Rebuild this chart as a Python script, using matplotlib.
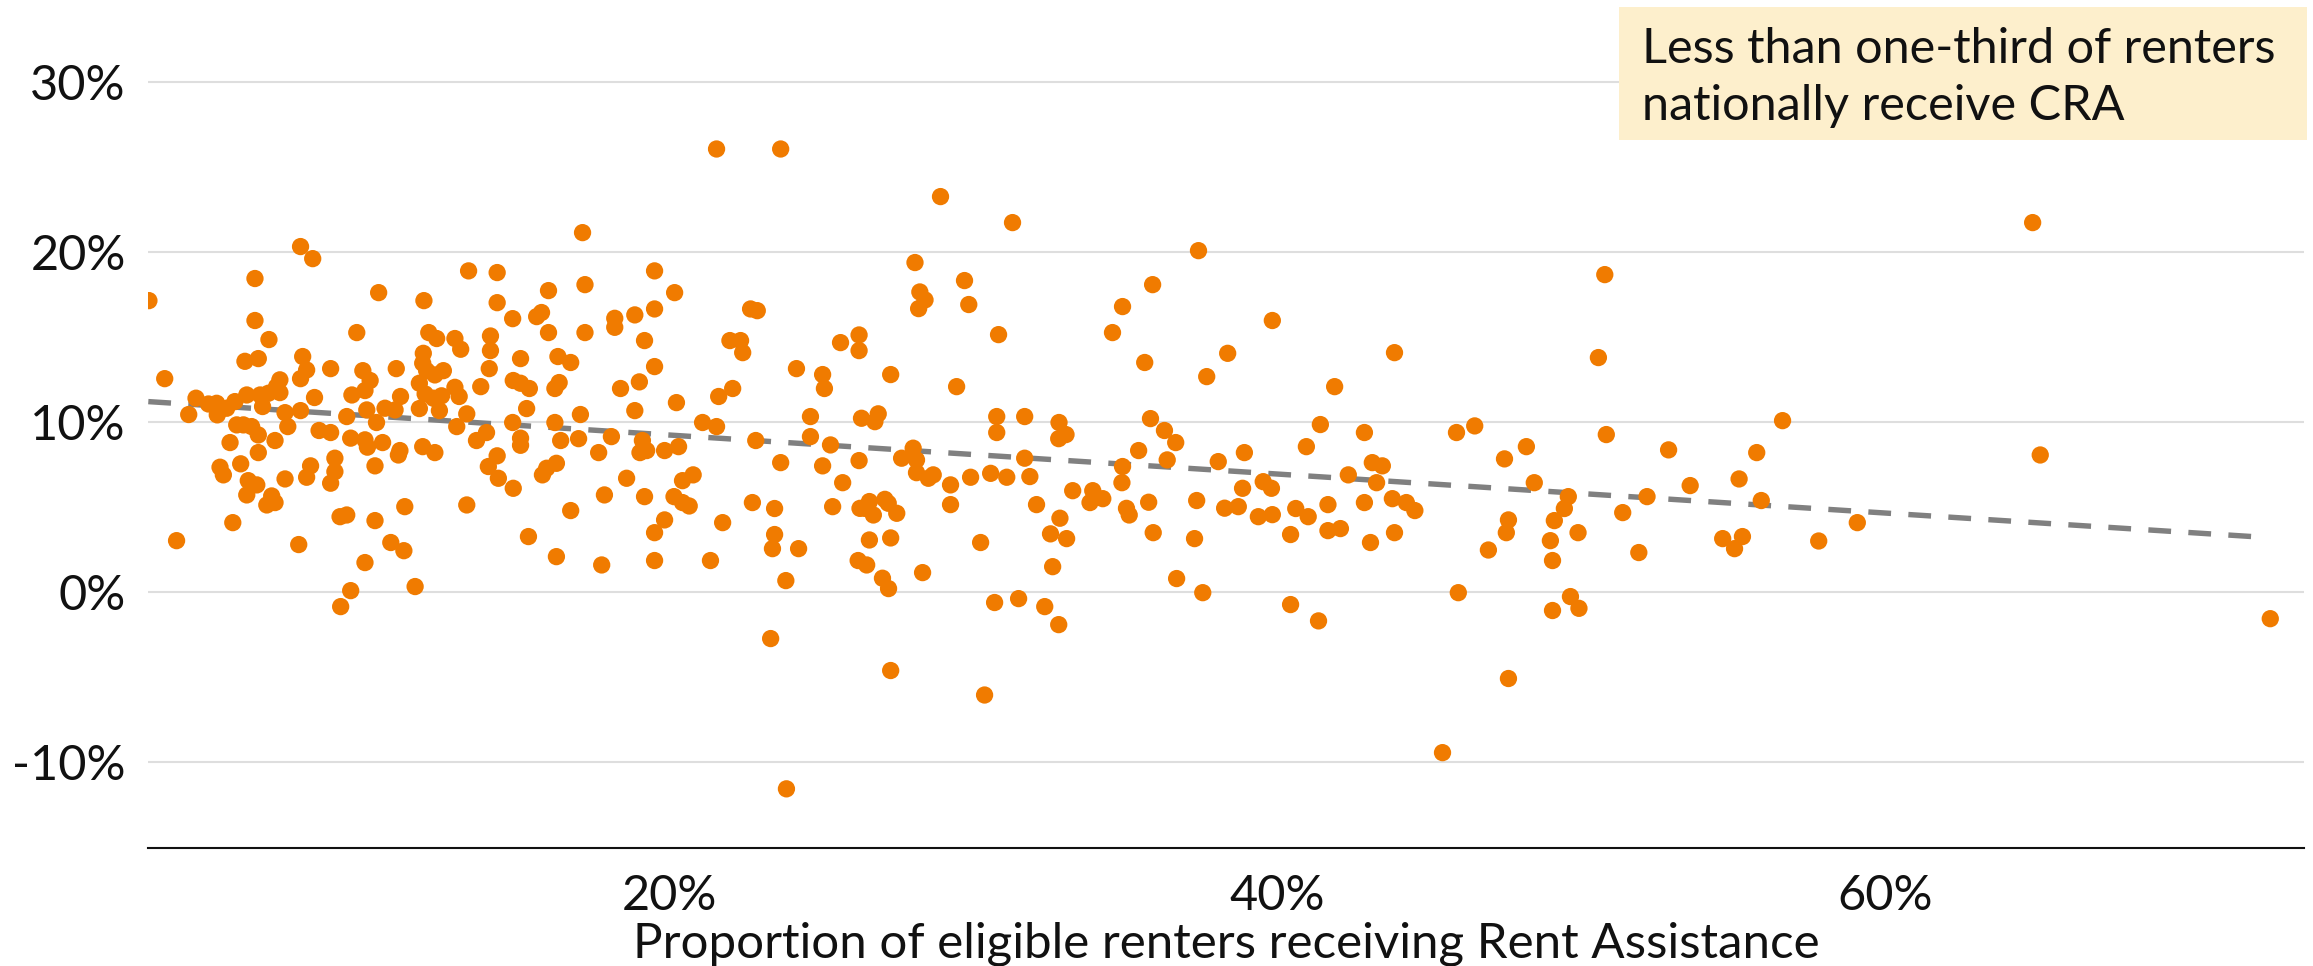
import matplotlib
matplotlib.use("Agg")
import matplotlib.pyplot as plt
from matplotlib.patches import Rectangle

plt.rcParams['font.family'] = ['Lato', 'DejaVu Sans']

# Proportion of eligible renters receiving Rent Assistance (%)
share_pct = [
    2.86, 3.38, 4.17, 4.41, 4.82, 5.09, 5.11, 5.42, 5.69, 5.75, 5.97, 6.08, 6.24, 6.46, 5.53, 5.20, 5.88, 6.46,
    7.01, 6.60, 6.52, 6.79, 7.17, 7.17, 7.06, 7.34, 7.43, 6.02, 6.46, 6.35, 6.35, 6.81, 7.85, 8.25, 7.92, 8.05,
    7.85, 7.85, 8.31, 8.84, 8.46, 8.84, 8.18, 8.98, 9.37, 9.54, 9.70, 9.90, 10.14, 9.97, 10.03, 10.35, 9.50, 9.97,
    10.05, 10.55, 10.30, 10.42, 11.00, 11.14, 10.63, 10.96, 11.12, 11.07, 11.91, 12.07, 12.33, 11.89, 11.87, 12.00,
    12.27, 12.55, 11.76, 11.95, 12.22, 12.49, 12.42, 11.76, 11.87, 12.27, 12.93, 13.12, 12.93, 13.07, 13.32, 12.99,
    13.38, 13.78, 14.06, 14.10, 14.10, 14.32, 14.32, 13.97, 13.64, 14.03, 14.32,
    5.31, 6.13, 6.41, 6.08, 6.90, 6.74, 7.01, 7.34, 8.05, 8.84, 8.98, 14.36, 5.62, 3.77, 7.79, 9.15, 9.37, 10.30,
    11.28, 13.32, 10.82, 11.25, 9.97, 9.50, 9.17, 11.62,
    21.54, 23.65, 17.13, 16.01, 17.21, 19.50, 20.16, 14.83, 15.62, 15.78, 16.01, 17.21, 18.19, 18.19, 18.85, 19.50,
    19.17, 15.09, 16.32, 16.74, 19.50, 14.85, 15.09, 15.38, 16.22, 16.36, 18.38, 19.00, 15.29, 17.06, 18.85, 20.22,
    14.83, 16.22, 15.09, 15.09, 16.41, 17.00, 18.08, 19.10, 17.66, 19.02, 19.24, 19.83, 20.29, 16.27, 15.95, 21.98,
    22.33, 22.40, 22.66, 22.88, 21.61, 22.07, 21.08, 21.54, 24.17, 25.03, 25.09, 25.62, 26.23, 26.23, 24.63,
    24.63, 25.29, 22.83, 23.65, 25.03, 26.23, 26.31,
    14.85, 15.81, 18.58, 17.85, 16.74, 19.17, 20.14, 20.42, 20.64, 20.42, 20.77, 19.83, 19.50, 15.35, 16.27, 17.76,
    19.50, 21.34, 21.74, 22.72, 23.45, 23.45, 23.38, 24.24, 23.82, 25.36, 25.69, 26.20, 26.26, 23.32, 23.84,
    28.91, 31.28, 37.40, 28.07, 29.70, 28.23, 28.40, 28.19, 29.84, 35.89, 34.90, 30.82, 34.57, 35.63, 37.67, 27.27,
    29.44, 26.86, 26.75, 30.76, 30.76, 31.68, 32.81, 33.04, 32.80, 35.82, 36.28, 36.65, 35.43, 36.37, 28.01, 28.12,
    27.63, 31.68, 38.05, 34.90,
    28.12, 28.51, 28.67, 29.24, 29.24, 29.90, 30.56, 31.09, 31.85, 26.57, 26.70, 26.42, 27.08, 27.19, 27.47, 26.57,
    27.27, 26.48, 27.00, 27.20, 28.32, 30.23, 32.07, 33.26, 33.92, 33.83, 34.25, 32.84, 32.53, 33.06, 32.60, 34.88,
    35.03, 35.12, 35.76, 35.91, 37.34, 37.27, 36.68, 37.54, 30.69, 31.48, 32.34, 32.80, 27.27, 30.36,
    39.83, 38.36, 43.85, 41.88, 41.41, 40.95, 38.91, 42.86, 45.89, 46.49, 47.47, 48.19, 43.12, 43.45,
    38.85, 39.53, 39.80, 38.26, 38.71, 39.37, 39.83, 40.60, 41.01, 40.43, 41.66, 41.66, 42.07, 42.33, 43.26, 42.86,
    43.78, 44.24, 44.52, 43.06, 43.85, 48.45, 49.57, 49.44, 49.11, 47.60, 47.53, 46.94, 48.98, 49.05, 49.89, 45.95,
    40.43, 41.35, 49.64, 49.05, 49.92, 47.60, 45.43,
    64.85, 50.77, 50.56, 50.82, 52.87, 55.77, 56.62, 65.10,
    53.58, 55.19, 52.16, 51.36, 55.92, 51.89, 54.65, 55.30, 55.04, 57.81, 59.08, 72.67,
]

# Rent growth (%)
growth_pct = [
    17.12, 12.53, 10.42, 11.38, 11.04, 11.08, 10.40, 10.79, 11.18, 9.81, 9.81, 11.57, 9.71, 9.22, 8.77, 7.32, 7.52, 8.18,
    8.89, 10.89, 11.57, 11.67, 12.46, 11.71, 12.06, 10.53, 9.71, 13.55, 13.71, 15.95, 18.42, 14.83, 20.30, 19.59, 13.83, 13.04,
    12.53, 10.65, 11.42, 13.12, 9.48, 9.36, 7.40, 7.85, 10.30, 11.57, 15.24, 13.00, 12.42, 11.83, 10.69, 9.95, 9.03, 8.93,
    8.50, 8.77, 7.40, 17.59, 13.12, 11.48, 10.79, 10.69, 8.30, 8.04, 17.12, 15.24, 14.89, 14.02, 13.44, 13.00,
    12.75, 13.00, 12.26, 11.63, 11.38, 11.52, 10.65, 10.77, 8.53, 8.18, 14.89, 14.26, 12.02, 11.48, 10.46, 9.71,
    18.87, 12.06, 13.12, 14.18, 15.04, 18.77, 17.00, 9.36, 8.89, 7.36, 7.99,
    6.87, 6.53, 6.28, 5.69, 5.63, 5.10, 5.24, 6.63, 6.73, 6.38, 7.06, 6.67, 4.06, 3.00, 2.77, 4.41, 4.51, 4.18,
    5.00, 5.10, 2.89, 2.41, 1.71, 0.06, -0.88, 0.30,
    26.04, 26.04, 21.12, 17.71, 18.06, 18.87, 17.59, 16.06, 16.18, 16.42, 15.24, 15.24, 16.08, 15.55, 16.28, 16.63,
    14.77, 13.71, 13.83, 13.48, 13.24, 12.42, 12.26, 11.95, 11.95, 12.30, 11.95, 12.34, 10.77, 10.42, 10.65, 11.12,
    9.95, 9.95, 9.03, 8.61, 8.89, 9.00, 9.12, 8.89, 8.18, 8.18, 8.30, 8.30, 8.53, 7.55, 7.26, 14.77,
    14.77, 14.06, 16.63, 16.53, 11.48, 11.95, 9.95, 9.71, 13.12, 12.77, 11.95, 14.65, 15.10, 14.18, 10.30,
    9.12, 8.63, 8.89, 7.59, 7.40, 7.71, 10.20,
    6.08, 6.87, 6.67, 5.69, 4.77, 5.59, 5.59, 5.24, 5.04, 6.53, 6.87, 4.22, 3.47, 3.24, 2.06, 1.57,
    1.83, 1.83, 4.06, 5.24, 4.89, 3.36, 2.53, 2.53, 0.65, 5.00, 6.41, 1.83, 4.90, -2.76, -11.60,
    23.24, 21.71, 20.06, 19.36, 18.30, 17.63, 17.16, 16.65, 16.89, 18.06, 16.77, 15.12, 15.24, 13.48, 12.65, 12.77,
    12.06, 10.46, 10.00, 10.30, 9.36, 10.30, 9.95, 9.24, 9.00, 10.18, 9.48, 8.77, 8.30, 7.75, 8.44, 7.75,
    7.85, 7.85, 7.65, 7.36,
    7.00, 6.67, 6.87, 6.28, 5.12, 6.73, 6.96, 6.73, 6.77, 5.30, 4.51, 4.90, 5.43, 5.20, 4.61, 3.04,
    3.16, 1.57, 0.79, 0.18, 1.12, 2.89, 5.12, 5.94, 5.94, 5.24, 5.47, 4.32, 3.40, 3.12, 1.47, 6.41,
    4.90, 4.51, 5.26, 3.47, 5.36, 3.12, 0.77, -0.06, -0.64, -0.41, -0.88, -1.94, -4.64, -6.08,
    15.95, 14.02, 14.06, 12.06, 9.83, 8.53, 8.18, 9.36, 9.36, 9.75, 7.81, 8.53, 7.59, 7.40,
    6.08, 6.47, 6.08, 4.91, 5.00, 4.41, 4.53, 4.89, 4.41, 3.36, 5.12, 3.59, 3.71, 6.87, 6.41, 5.24,
    5.47, 5.24, 4.77, 2.89, 3.47, 6.41, 5.59, 4.89, 4.18, 4.22, 3.47, 2.45, 3.00, 1.83, 3.47, -0.06,
    -0.76, -1.72, -0.29, -1.11, -0.98, -5.11, -9.47,
    21.71, 18.65, 13.77, 9.24, 8.34, 8.18, 10.06, 8.04,
    6.24, 6.63, 5.59, 4.65, 5.36, 2.30, 3.12, 3.24, 2.53, 2.98, 4.06, -1.59,
]

# Trend line end points
trend_x = [2.84, 72.6]
trend_y = [11.18, 3.18]

x_ticks = [20, 40, 60]
x_tick_labels = ["20%", "40%", "60%"]
y_ticks = [-10, 0, 10, 20, 30]
y_tick_labels = ["-10%", "0%", "10%", "20%", "30%"]

x_label = "Proportion of eligible renters receiving Rent Assistance"
note_lines = ["Less than one-third of renters", "nationally receive CRA"]

W, H = 2313, 966
fig = plt.figure(figsize=(W / 100, H / 100), dpi=100)
ax = fig.add_axes([148 / W, 118 / H, (2304 - 148) / W, (848 - 30) / H])

ax.plot(trend_x, trend_y, color="#808080", lw=3.9, dashes=(4.2, 3.2), zorder=2,
        solid_capstyle="butt", dash_capstyle="butt")
ax.scatter(share_pct, growth_pct, s=155, color="#F07B00", edgecolors="none", zorder=3)

ax.set_xlim(2.83, 73.78)
ax.set_ylim(-15.08, 33.04)
ax.set_xticks(x_ticks)
ax.set_xticklabels(x_tick_labels)
ax.set_yticks(y_ticks)
ax.set_yticklabels(y_tick_labels)
ax.tick_params(axis="both", length=0, labelsize=35, colors="#111111")
ax.tick_params(axis="x", pad=19)
ax.tick_params(axis="y", pad=16)
ax.yaxis.grid(True, color="#DEDEDE", lw=1.5)
ax.set_axisbelow(True)
for s in ["top", "right", "left"]:
    ax.spines[s].set_visible(False)
ax.spines["bottom"].set_color("#111111")
ax.spines["bottom"].set_linewidth(1.5)
ax.set_xlabel(x_label, fontsize=35.5, color="#111111", labelpad=2)

# annotation box
fig.patches.append(Rectangle((1619 / W, 1 - 140 / H), (2307 - 1619) / W, (140 - 7) / H,
                             transform=fig.transFigure, facecolor="#FDEFCC", edgecolor="none", zorder=0))
fig.text(1642 / W, 1 - 63 / H, note_lines[0], fontsize=35, color="#111111", va="baseline", ha="left")
fig.text(1642 / W, 1 - 120 / H, note_lines[1], fontsize=35, color="#111111", va="baseline", ha="left")

fig.savefig("out.png", dpi=100)
